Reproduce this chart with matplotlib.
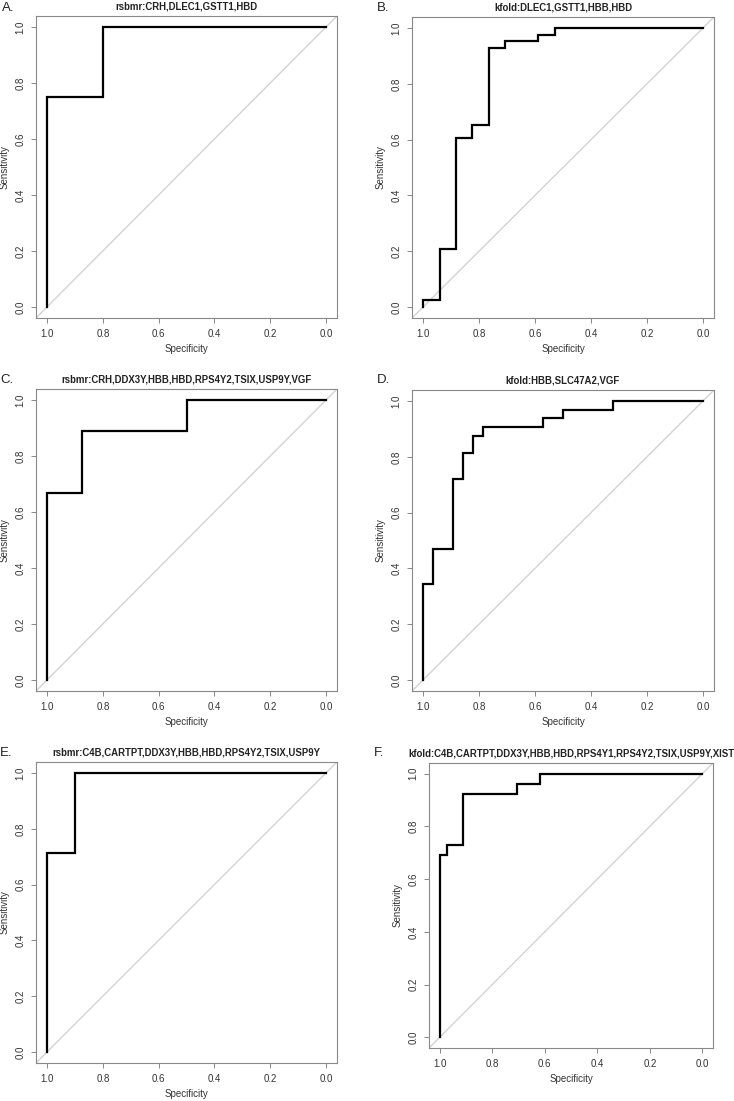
import matplotlib
matplotlib.use('Agg')
import matplotlib.pyplot as plt

plt.rcParams['font.family'] = ['Liberation Sans', 'DejaVu Sans']

W, H = 734, 1101

# ── ROC curves (specificity, sensitivity) ───────────────────────────
spec_a = [1.0, 1.0, 0.8, 0.8, 0.0]
sens_a = [0.0, 0.75, 0.75, 1.0, 1.0]

spec_b = [1.0, 1.0, 0.941, 0.941, 0.882, 0.882, 0.824, 0.824, 0.765, 0.765,
          0.706, 0.706, 0.588, 0.588, 0.529, 0.529, 0.0]
sens_b = [0.0, 0.023, 0.023, 0.209, 0.209, 0.605, 0.605, 0.651, 0.651, 0.930,
          0.930, 0.953, 0.953, 0.977, 0.977, 1.0, 1.0]

spec_c = [1.0, 1.0, 0.875, 0.875, 0.5, 0.5, 0.0]
sens_c = [0.0, 0.667, 0.667, 0.889, 0.889, 1.0, 1.0]

spec_d = [1.0, 1.0, 0.964, 0.964, 0.893, 0.893, 0.857, 0.857, 0.821, 0.821,
          0.786, 0.786, 0.571, 0.571, 0.5, 0.5, 0.321, 0.321, 0.0]
sens_d = [0.0, 0.344, 0.344, 0.469, 0.469, 0.719, 0.719, 0.813, 0.813, 0.875,
          0.875, 0.906, 0.906, 0.938, 0.938, 0.969, 0.969, 1.0, 1.0]

spec_e = [1.0, 1.0, 0.9, 0.9, 0.0]
sens_e = [0.0, 0.714, 0.714, 1.0, 1.0]

spec_f = [1.0, 1.0, 0.971, 0.971, 0.912, 0.912, 0.706, 0.706, 0.618, 0.618, 0.0]
sens_f = [0.0, 0.692, 0.692, 0.731, 0.731, 0.923, 0.923, 0.962, 0.962, 1.0, 1.0]

titles = [
    "rsbmr:CRH,DLEC1,GSTT1,HBD",
    "kfold:DLEC1,GSTT1,HBB,HBD",
    "rsbmr:CRH,DDX3Y,HBB,HBD,RPS4Y2,TSIX,USP9Y,VGF",
    "kfold:HBB,SLC47A2,VGF",
    "rsbmr:C4B,CARTPT,DDX3Y,HBB,HBD,RPS4Y2,TSIX,USP9Y",
    "kfold:C4B,CARTPT,DDX3Y,HBB,HBD,RPS4Y1,RPS4Y2,TSIX,USP9Y,XIST",
]
letters = ["A.", "B.", "C.", "D.", "E.", "F."]
ticks = [0.0, 0.2, 0.4, 0.6, 0.8, 1.0]

curves = [(spec_a, sens_a), (spec_b, sens_b), (spec_c, sens_c),
          (spec_d, sens_d), (spec_e, sens_e), (spec_f, sens_f)]

# axes boxes in pixels: left, top, right, bottom
boxes = [(36, 16, 337, 318), (412, 17, 714, 318),
         (36, 389, 337, 691), (412, 390, 714, 691),
         (36, 762, 337, 1063), (429, 763, 713, 1048)]
letter_pos = [(8, 8), (383, 8), (7, 380), (384, 380), (6.5, 752.5), (379, 753)]

fig = plt.figure(figsize=(W / 100, H / 100), dpi=100)
fig.patch.set_facecolor('white')

for (spec, sens), title, letter, box, lp in zip(curves, titles, letters, boxes, letter_pos):
    l, t, r, b = box
    ax = fig.add_axes([l / W, 1 - b / H, (r - l) / W, (b - t) / H])
    ax.set_xlim(1.04, -0.04)
    ax.set_ylim(-0.04, 1.04)
    ax.plot([1.04, -0.04], [-0.04, 1.04], color='#d3d3d3', linewidth=1.0)
    ax.plot(spec, sens, color='black', linewidth=1.6, solid_joinstyle='miter')
    for s in ax.spines.values():
        s.set_color('#888888')
        s.set_linewidth(0.8)
    ax.set_xticks(ticks)
    ax.set_yticks(ticks)
    ax.set_xticklabels([f"{v:.1f}" for v in ticks])
    ax.set_yticklabels([f"{v:.1f}" for v in ticks], rotation=90, va='center')
    ax.tick_params(length=3.6, width=0.7, color='#888888', labelcolor='#333333',
                   labelsize=7, pad=4)
    ax.set_xlabel("Specificity", fontsize=7, color='#333333', labelpad=4)
    ax.set_ylabel("Sensitivity", fontsize=7, color='#333333', labelpad=4)
    ax.set_title(title, fontsize=6.9, fontweight='bold', color='#222222', pad=5)
    fig.text(lp[0] / W, 1 - lp[1] / H, letter, fontsize=9.5, color='#222222',
             ha='center', va='center')

fig.savefig("out.png", dpi=100, facecolor='white')
